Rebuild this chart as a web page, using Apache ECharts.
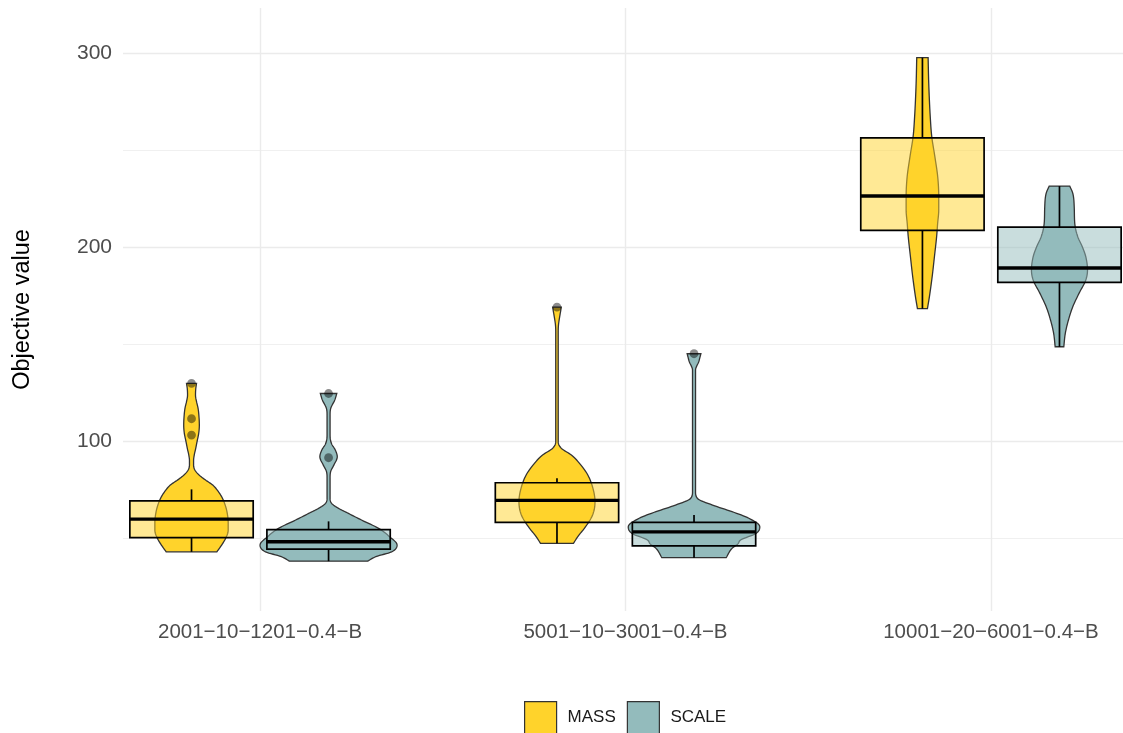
<!DOCTYPE html>
<html><head><meta charset="utf-8">
<script src="https://cdn.jsdelivr.net/npm/echarts@6/dist/echarts.min.js"></script>
<style>html,body{margin:0;padding:0;background:#fff}#c{width:1123px;height:733px}</style>
</head><body><div id="c"></div>
<script>
// ---------------- data ----------------
const categories = ['2001−10−1201−0.4−B', '5001−10−3001−0.4−B', '10001−20−6001−0.4−B'];
const groups = ['MASS', 'SCALE'];
const yTickLabels = [100, 200, 300];
const majorGrid = [100, 200, 300];
const minorGrid = [50, 150, 250];
// box stats per category: [lowerWhisker, q1, median, q3, upperWhisker]
const massBox = [[42.9, 50.2, 59.8, 69.2, 75.1], [47.3, 58.1, 69.4, 78.5, 80.8], [168.2, 208.6, 226.3, 256.3, 297.6]];
const scaleBox = [[38.1, 44.3, 48.1, 54.3, 58.6], [39.8, 46.0, 53.2, 58.1, 61.9], [148.6, 181.8, 189.2, 210.3, 231.4]];
const massOutliers = [[129.7, 111.5, 103.1], [169.0], []];
const scaleOutliers = [[124.5, 91.4], [145.0], []];
// violin density profiles: [value, relative width (1 = widest violin)]
const massViolin = [
  [[42.9,0.37],[46.4,0.44],[50,0.50],[54,0.535],[58,0.535],[62,0.525],[66,0.50],[70.6,0.45],[74,0.39],[77.3,0.31],[80,0.20],[82.5,0.11],[85,0.05],[87.6,0.03],[90,0.03],[92.8,0.04],[96,0.06],[99.6,0.08],[104,0.105],[108.2,0.114],[112,0.11],[117,0.095],[120,0.075],[123.7,0.058],[127,0.062],[129.7,0.073]],
  [[47.3,0.24],[51.5,0.32],[55.0,0.40],[61.9,0.52],[68.7,0.555],[75.6,0.525],[82.5,0.45],[87.6,0.35],[92.8,0.21],[96.2,0.066],[99.6,0.018],[156.3,0.018],[159.8,0.022],[165.0,0.044],[169.0,0.063]],
  [[168.2,0.073],[174.4,0.102],[184.7,0.142],[195.0,0.175],[205.3,0.207],[212.2,0.222],[219.1,0.238],[225.9,0.238],[236.2,0.223],[246.5,0.182],[256.9,0.136],[267.2,0.114],[284.4,0.092],[297.6,0.083]]
];
const scaleViolin = [
  [[38.1,0.57],[40.4,0.69],[42.9,0.92],[46.4,1.0],[50.7,0.89],[55.0,0.73],[59.3,0.48],[62.7,0.29],[65.3,0.146],[67.9,0.044],[70.6,0.022],[80.9,0.022],[84.2,0.03],[87.6,0.077],[91.9,0.127],[95.4,0.098],[98.8,0.041],[103.1,0.022],[113.4,0.022],[116.9,0.032],[121.1,0.09],[124.5,0.12]],
  [[39.9,0.47],[44.7,0.555],[47,0.64],[49.0,0.68],[52.4,0.905],[55.8,0.96],[60.2,0.80],[63.6,0.555],[67.0,0.27],[70.5,0.048],[73.9,0.022],[136.6,0.022],[140.9,0.069],[145.0,0.10]],
  [[148.6,0.063],[155.5,0.085],[162.4,0.131],[169.2,0.194],[176.1,0.285],[183.0,0.384],[188.1,0.409],[195.0,0.384],[200.2,0.333],[205.3,0.267],[212.2,0.223],[220.8,0.215],[227.7,0.194],[231.4,0.150]]
];
const colors = { MASS: '#FFD32B', SCALE: '#93BBBC' };
const boxFill = { MASS: 'rgba(255,211,43,0.5)', SCALE: 'rgba(147,187,188,0.5)' };

// ---------------- layout constants (axis units) ----------------
const DODGE = 0.1875, VMAX = 0.1875, BOXHALF = 0.16875;
const FONT = '"Liberation Sans", Arial, sans-serif';

function smoothProfile(prof) {
  const n = prof.length, v = prof.map(p => p[0]), w = prof.map(p => p[1]);
  const d = [], m = new Array(n);
  for (let i = 0; i < n - 1; i++) d.push((w[i + 1] - w[i]) / (v[i + 1] - v[i]));
  m[0] = d[0]; m[n - 1] = d[n - 2];
  for (let i = 1; i < n - 1; i++) m[i] = (d[i - 1] * d[i] <= 0) ? 0 : (d[i - 1] + d[i]) / 2;
  for (let i = 0; i < n - 1; i++) {
    if (d[i] === 0) { m[i] = 0; m[i + 1] = 0; continue; }
    const a = m[i] / d[i], b = m[i + 1] / d[i], s = a * a + b * b;
    if (s > 9) { const t = 3 / Math.sqrt(s); m[i] = t * a * d[i]; m[i + 1] = t * b * d[i]; }
  }
  const out = [];
  for (let i = 0; i < n - 1; i++) {
    const h = v[i + 1] - v[i];
    for (let k = 0; k < 8; k++) {
      const t = k / 8, t2 = t * t, t3 = t2 * t;
      const h00 = 2 * t3 - 3 * t2 + 1, h10 = t3 - 2 * t2 + t, h01 = -2 * t3 + 3 * t2, h11 = t3 - t2;
      out.push([v[i] + t * h, h00 * w[i] + h10 * h * m[i] + h01 * w[i + 1] + h11 * h * m[i + 1]]);
    }
  }
  out.push(prof[n - 1]);
  return out;
}

function makeRender(name, boxes, outs, violins, side) {
  return function (params, api) {
    const i = params.dataIndex;
    const xc = api.value(0) + side * DODGE;
    const lw = api.value(1), q1 = api.value(2), med = api.value(3), q3 = api.value(4), uw = api.value(5);
    const prof = smoothProfile(violins[i]);
    const left = prof.map(p => api.coord([xc - p[1] * VMAX, p[0]]));
    const right = prof.map(p => api.coord([xc + p[1] * VMAX, p[0]])).reverse();
    const children = [];
    children.push({ type: 'polygon', shape: { points: left.concat(right) },
      style: { fill: colors[name], stroke: '#333333', lineWidth: 1.3 } });
    const tl = api.coord([xc - BOXHALF, q3]), br = api.coord([xc + BOXHALF, q1]);
    children.push({ type: 'rect', shape: { x: tl[0], y: tl[1], width: br[0] - tl[0], height: br[1] - tl[1] },
      style: { fill: boxFill[name], stroke: '#000', lineWidth: 1.7 } });
    const c = (x, y) => api.coord([x, y]);
    const a1 = c(xc, q3), a2 = c(xc, uw), b1 = c(xc, q1), b2 = c(xc, lw);
    children.push({ type: 'line', shape: { x1: a1[0], y1: a1[1], x2: a2[0], y2: a2[1] }, style: { stroke: '#000', lineWidth: 1.7 } });
    children.push({ type: 'line', shape: { x1: b1[0], y1: b1[1], x2: b2[0], y2: b2[1] }, style: { stroke: '#000', lineWidth: 1.7 } });
    const m1 = c(xc - BOXHALF, med), m2 = c(xc + BOXHALF, med);
    children.push({ type: 'line', shape: { x1: m1[0], y1: m1[1], x2: m2[0], y2: m2[1] }, style: { stroke: '#000', lineWidth: 3.3 } });
    outs[i].forEach(o => {
      const p = c(xc, o);
      children.push({ type: 'circle', shape: { cx: p[0], cy: p[1], r: 4.4 }, style: { fill: 'rgba(0,0,0,0.45)' } });
    });
    return { type: 'group', children };
  };
}

function seriesData(boxes) { return categories.map((cat, i) => [i + 1].concat(boxes[i])); }

const chart = echarts.init(document.getElementById('c'), null, { renderer: 'canvas' });
chart.setOption({
  animation: false,
  backgroundColor: '#ffffff',
  textStyle: { fontFamily: FONT },
  grid: { left: 123, top: 8, width: 1005, height: 603, containLabel: false, outerBoundsMode: 'none' },
  xAxis: {
    type: 'value', min: 0.625, max: 3.375,
    axisLine: { show: false }, axisTick: { show: false, customValues: [1, 2, 3] }, splitLine: { show: false },
    axisLabel: { customValues: [1, 2, 3], margin: 11, fontSize: 20.5, color: '#4d4d4d', fontFamily: FONT,
      formatter: v => (Math.abs(v - Math.round(v)) < 1e-9 && categories[Math.round(v) - 1]) ? categories[Math.round(v) - 1] : '' }
  },
  yAxis: {
    type: 'value', min: 12.4, max: 323.2,
    name: 'Objective value', nameLocation: 'middle', nameGap: 88, nameRotate: 90,
    nameTextStyle: { fontSize: 23.5, color: '#000', fontFamily: FONT },
    axisLine: { show: false }, axisTick: { show: false }, splitLine: { show: false },
    axisLabel: { customValues: yTickLabels, margin: 11, fontSize: 21, color: '#4d4d4d', fontFamily: FONT,
      formatter: v => yTickLabels.indexOf(Math.round(v * 1000) / 1000) >= 0 ? String(Math.round(v)) : '' }
  },
  legend: {
    data: groups, left: 519, top: 696, orient: 'horizontal', icon: 'rect',
    itemWidth: 32, itemHeight: 32, itemGap: 11,
    itemStyle: { borderColor: '#333333', borderWidth: 1.2 },
    textStyle: { fontSize: 17, color: '#1a1a1a', fontFamily: FONT, padding: [0, 0, 0, 6] }
  },
  series: [
    {
      name: 'gridlines', type: 'line', data: [], z: 1, silent: true,
      markLine: {
        silent: true, symbol: ['none', 'none'], label: { show: false }, animation: false,
        data: [].concat(
          minorGrid.map(v => ({ yAxis: v, lineStyle: { color: '#f0f0f0', width: 1, type: 'solid' } })),
          majorGrid.map(v => ({ yAxis: v, lineStyle: { color: '#ebebeb', width: 1.4, type: 'solid' } })),
          categories.map((c, i) => ({ xAxis: i + 1, lineStyle: { color: '#ebebeb', width: 1.4, type: 'solid' } }))
        )
      }
    },
    { name: 'MASS', type: 'custom', z: 10, itemStyle: { color: colors.MASS },
      encode: { x: 0, y: [1, 2, 3, 4, 5] }, data: seriesData(massBox),
      renderItem: makeRender('MASS', massBox, massOutliers, massViolin, -1) },
    { name: 'SCALE', type: 'custom', z: 10, itemStyle: { color: colors.SCALE },
      encode: { x: 0, y: [1, 2, 3, 4, 5] }, data: seriesData(scaleBox),
      renderItem: makeRender('SCALE', scaleBox, scaleOutliers, scaleViolin, 1) }
  ]
});
</script>
</body></html>
